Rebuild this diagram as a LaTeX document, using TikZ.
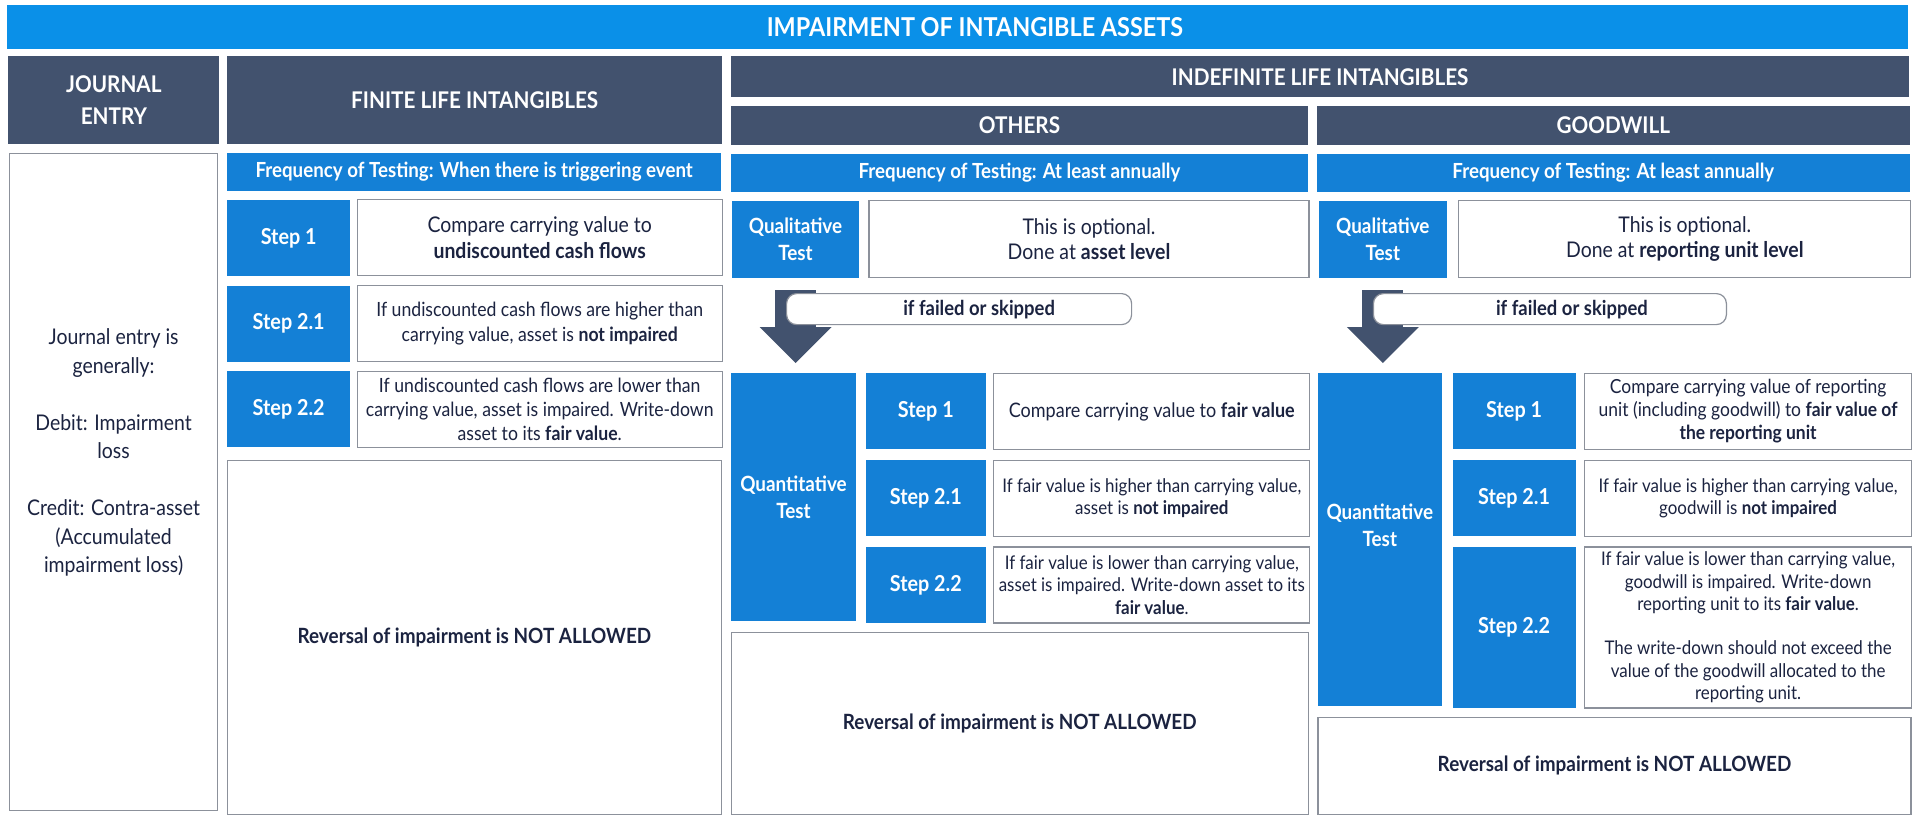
\documentclass[tikz,border=0pt]{standalone}
\usepackage{fontspec}
\setmainfont{Lato}[FakeStretch=0.9]
\usetikzlibrary{positioning,calc,arrows.meta}

\definecolor{titleblue}{RGB}{10,144,232}
\definecolor{stepblue}{RGB}{20,128,214}
\definecolor{slate}{RGB}{66,82,110}
\definecolor{navy}{RGB}{27,35,64}
\definecolor{boxgray}{RGB}{140,145,155}

\newcommand\fsz[2]{\fontsize{#1}{#2}\selectfont}

\tikzset{
  titlebar/.style={fill=titleblue, text=white, inner sep=0pt,
    font=\bfseries\fsz{13}{15}},
  hdr/.style={fill=slate, text=white, inner sep=0pt, align=center,
    font=\bfseries\fsz{11.5}{16}},
  bluebox/.style={fill=stepblue, text=white, inner sep=0pt, align=center,
    font=\bfseries\fsz{11}{14}},
  testbox/.style={bluebox, font=\bfseries\fsz{10.5}{13.5}},
  freqbar/.style={fill=stepblue, text=white, inner sep=0pt, minimum height=19pt,
    font=\bfseries\fsz{10.4}{12}},
  textbox/.style={draw=boxgray, line width=0.6pt, fill=white, text=navy,
    inner sep=0pt, align=center, font=\fsz{9.4}{11.4}},
  revbox/.style={textbox, font=\bfseries\fsz{10.5}{12}},
  skipbox/.style={draw=boxgray, line width=0.6pt, fill=white, text=navy,
    rounded corners=5pt, inner sep=0pt, minimum height=15.5pt,
    font=\bfseries\fsz{10.25}{12}},
  downarrow/.style={draw=slate, line width=20.5pt,
    -{Triangle[length=18pt,width=36pt,line width=0pt]},
    shorten <=6pt, shorten >=5pt}
}

\begin{document}
\begin{tikzpicture}
\fill[white] (0,0) rectangle (960.5pt,-409.5pt);
\useasboundingbox (0,0) rectangle (960.5pt,-409.5pt);

% headers
\node[titlebar, anchor=north west, minimum width=950.5pt, minimum height=22pt] (title) at (3.5pt,-2.5pt) {\hspace*{17pt}IMPAIRMENT OF INTANGIBLE ASSETS};
\node[hdr, minimum width=105.5pt, minimum height=44pt, below right=3pt and 0.5pt of title.south west] (jhead) {JOURNAL\\ENTRY};
\node[hdr, minimum width=247.5pt, minimum height=44pt, right=3.5pt of jhead] (fhead) {FINITE LIFE INTANGIBLES};
\node[hdr, minimum width=589pt, minimum height=20.5pt, right=4pt of fhead.north east, anchor=north west] (ihead) {INDEFINITE LIFE INTANGIBLES};
\node[hdr, minimum width=288.5pt, minimum height=19.5pt, below right=4pt and 0pt of ihead.south west] (ohead) {OTHERS};
\node[hdr, minimum width=296.5pt, minimum height=19.5pt, right=4pt of ohead] (ghead) {GOODWILL};

% journal entry
\node[textbox, minimum width=104pt, minimum height=328.5pt, below right=4pt and 0.5pt of jhead.south west] (jbody) {};
\node[text=navy, align=center, font=\fsz{10.8}{14.25}] (jtext) at ($(jbody.center)+(0,14.5pt)$)
  {Journal entry is\\generally:\\[14.25pt]Debit: Impairment\\loss\\[14.25pt]Credit: Contra-asset\\(Accumulated\\impairment loss)};

% finite life
\node[freqbar, minimum width=247pt, below right=4pt and 0pt of fhead.south west] (ffreq) {Frequency of Testing: When there is triggering event};
\node[bluebox, minimum width=61.5pt, minimum height=38pt, below right=4pt and 0pt of ffreq.south west] (fs1) {Step 1};
\node[textbox, minimum width=182.5pt, minimum height=38pt, right=3pt of fs1, font=\fsz{10.8}{13}] (ft1) {Compare carrying value to\\\textbf{undiscounted cash flows}};
\node[bluebox, minimum width=61.5pt, minimum height=38pt, below=4.5pt of fs1] (fs21) {Step 2.1};
\node[textbox, minimum width=182.5pt, minimum height=38pt, right=3pt of fs21, font=\fsz{9.8}{12.2}] (ft21) {If undiscounted cash flows are higher than\\carrying value, asset is \textbf{not impaired}};
\node[bluebox, minimum width=61.5pt, minimum height=38pt, below=4.5pt of fs21] (fs22) {Step 2.2};
\node[textbox, minimum width=182.5pt, minimum height=38pt, right=3pt of fs22, font=\fsz{9.8}{11.9}] (ft22) {If undiscounted cash flows are lower than\\carrying value, asset is impaired. Write-down\\asset to its \textbf{fair value}.};
\node[revbox, minimum width=247pt, minimum height=177pt, below right=6pt and 0pt of fs22.south west] (frev) {Reversal of impairment is NOT ALLOWED};

% others
\node[freqbar, minimum width=288.5pt, below right=4pt and 0pt of ohead.south west] (ofreq) {Frequency of Testing: At least annually};
\node[testbox, minimum width=63.5pt, minimum height=38.5pt, below right=4pt and 0.5pt of ofreq.south west] (oqual) {Qualitative\\Test};
\node[textbox, minimum width=220pt, minimum height=38.5pt, right=4.5pt of oqual, font=\fsz{10.8}{12.8}] (oqtext) {This is optional.\\Done at \textbf{asset level}};
\node[testbox, minimum width=62.5pt, minimum height=124pt, below right=47.5pt and -0.5pt of oqual.south west] (oquant) {Quantitative\\Test};
\node[bluebox, minimum width=60pt, minimum height=38pt, right=4.5pt of oquant.north east, anchor=north west] (os1) {Step 1};
\node[textbox, minimum width=158pt, minimum height=38pt, right=3.5pt of os1, font=\fsz{10}{12}] (ot1) {Compare carrying value to \textbf{fair value}};
\node[bluebox, minimum width=60pt, minimum height=38pt, below=5pt of os1] (os21) {Step 2.1};
\node[textbox, minimum width=158pt, minimum height=38pt, right=3.5pt of os21] (ot21) {If fair value is higher than carrying value,\\asset is \textbf{not impaired}};
\node[bluebox, minimum width=60pt, minimum height=38pt, below=5pt of os21] (os22) {Step 2.2};
\node[textbox, minimum width=158pt, minimum height=38pt, right=3.5pt of os22] (ot22) {If fair value is lower than carrying value,\\asset is impaired. Write-down asset to its\\\textbf{fair value}.};
\node[revbox, minimum width=288.5pt, minimum height=91pt, below right=5pt and 0pt of oquant.south west] (orev) {Reversal of impairment is NOT ALLOWED};
\draw[downarrow] (oqual.south) -- (oqual.south |- oquant.north);
\node[skipbox, minimum width=172.5pt, below right=7.5pt and -4.75pt of oqual.south] (oskip) {\hspace*{20pt}if failed or skipped};

% goodwill
\node[freqbar, minimum width=296.5pt, below right=4pt and 0pt of ghead.south west] (gfreq) {Frequency of Testing: At least annually};
\node[testbox, minimum width=64pt, minimum height=38.5pt, below right=4pt and 1pt of gfreq.south west] (gqual) {Qualitative\\Test};
\node[textbox, minimum width=226pt, minimum height=38.5pt, right=5.5pt of gqual, font=\fsz{10.8}{12.8}] (gqtext) {This is optional.\\Done at \textbf{reporting unit level}};
\node[testbox, minimum width=62pt, minimum height=166.5pt, text depth=14.5pt, below right=47.5pt and -0.5pt of gqual.south west] (gquant) {Quantitative\\Test};
\node[bluebox, minimum width=61.5pt, minimum height=38pt, right=5pt of gquant.north east, anchor=north west] (gs1) {Step 1};
\node[textbox, minimum width=163.5pt, minimum height=38pt, right=4pt of gs1, font=\fsz{9.7}{11.4}] (gt1) {Compare carrying value of reporting\\unit (including goodwill) to \textbf{fair value of}\\\textbf{the reporting unit}};
\node[bluebox, minimum width=61.5pt, minimum height=38pt, below=5pt of gs1] (gs21) {Step 2.1};
\node[textbox, minimum width=163.5pt, minimum height=38pt, right=4pt of gs21] (gt21) {If fair value is higher than carrying value,\\goodwill is \textbf{not impaired}};
\node[bluebox, minimum width=61.5pt, minimum height=80.5pt, below=5pt of gs21] (gs22) {Step 2.2};
\node[textbox, minimum width=163.5pt, minimum height=80.5pt, right=4pt of gs22, font=\fsz{9.4}{11.2}] (gt22) {If fair value is lower than carrying value,\\goodwill is impaired. Write-down\\reporting unit to its \textbf{fair value}.\\[11pt]The write-down should not exceed the\\value of the goodwill allocated to the\\reporting unit.};
\node[revbox, minimum width=296.5pt, minimum height=48.5pt, below right=5pt and 0pt of gquant.south west] (grev) {Reversal of impairment is NOT ALLOWED};
\draw[downarrow] (gqual.south) -- (gqual.south |- gquant.north);
\node[skipbox, minimum width=176.5pt, below right=7.5pt and -5pt of gqual.south] (gskip) {\hspace*{22pt}if failed or skipped};
\end{tikzpicture}
\end{document}
